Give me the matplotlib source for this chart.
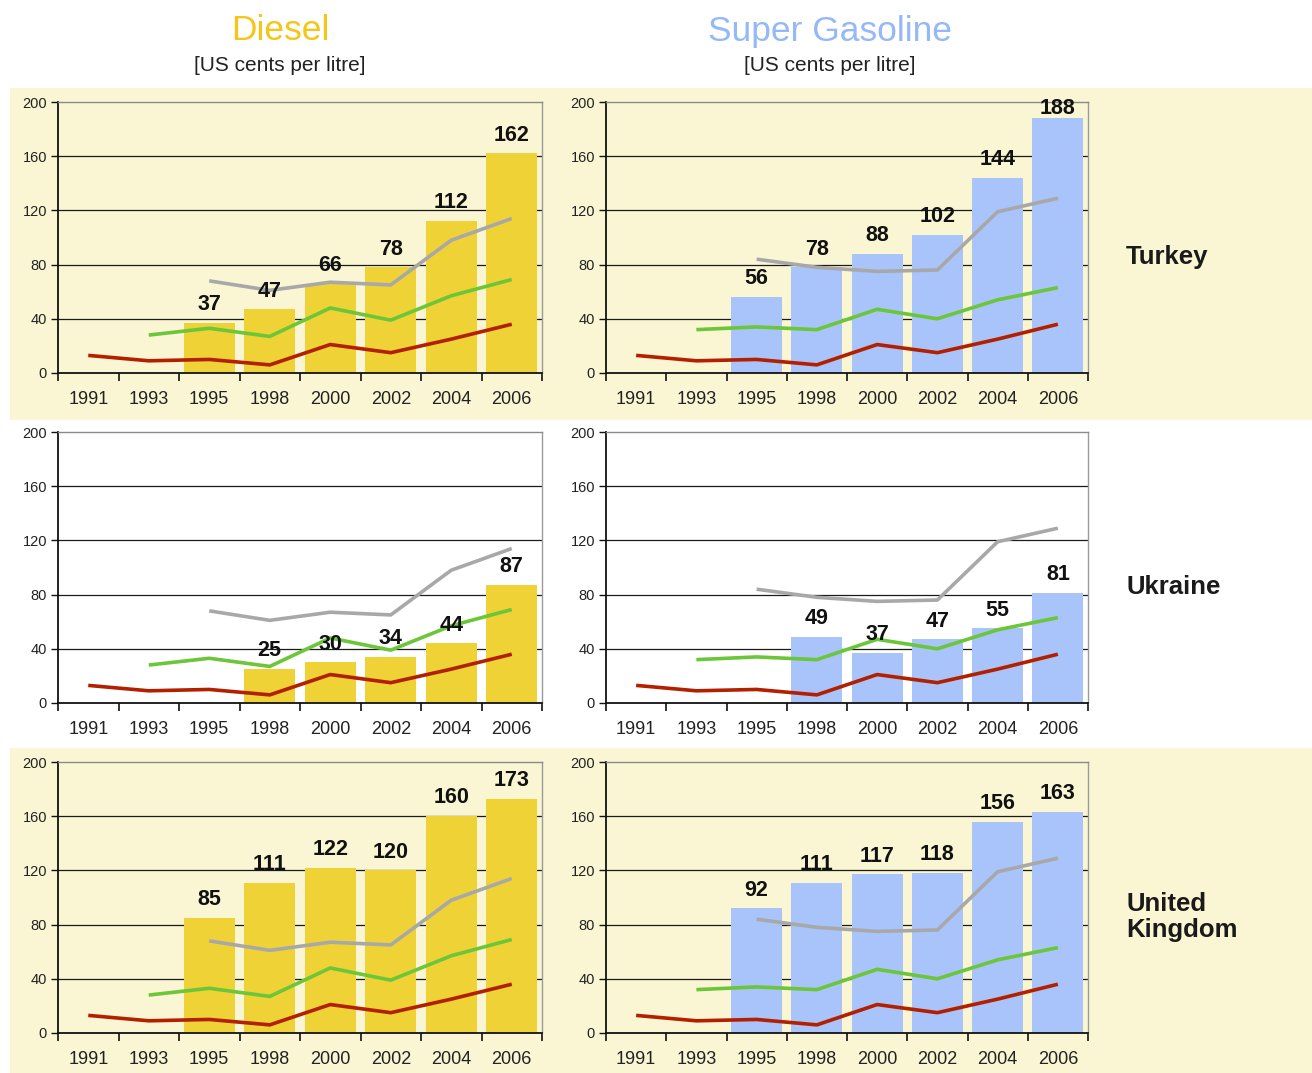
import numpy as np
import matplotlib
matplotlib.use("Agg")
import matplotlib.pyplot as plt
from matplotlib.patches import Rectangle

plt.rcParams['font.family'] = ['Liberation Sans', 'DejaVu Sans']

years = ['1991', '1993', '1995', '1998', '2000', '2002', '2004', '2006']
nan = np.nan

# Bar values (US cents per litre)
turkey_diesel = [nan, nan, 37, 47, 66, 78, 112, 162]
ukraine_diesel = [nan, nan, nan, 25, 30, 34, 44, 87]
uk_diesel = [nan, nan, 85, 111, 122, 120, 160, 173]
turkey_gas = [nan, nan, 56, 78, 88, 102, 144, 188]
ukraine_gas = [nan, nan, nan, 49, 37, 47, 55, 81]
uk_gas = [nan, nan, 92, 111, 117, 118, 156, 163]

# Reference lines
diesel_red = [13, 9, 10, 6, 21, 15, 25, 36]
diesel_green = [nan, 28, 33, 27, 48, 39, 57, 69]
diesel_gray = [nan, nan, 68, 61, 67, 65, 98, 114]
gas_red = [13, 9, 10, 6, 21, 15, 25, 36]
gas_green = [nan, 32, 34, 32, 47, 40, 54, 63]
gas_gray = [nan, nan, 84, 78, 75, 76, 119, 129]

countries = ['Turkey', 'Ukraine', 'United\nKingdom']
yticks = [0, 40, 80, 120, 160, 200]

W, H = 1312, 1073
fig = plt.figure(figsize=(W / 100, H / 100), dpi=100)
fig.patch.set_facecolor('white')

band_color = '#FAF6D3'
# background bands (Turkey row and UK row)
for (y0, y1) in [(88, 420), (748, 1073)]:
    rect = Rectangle((10 / W, 1 - y1 / H), 1 - 10 / W, (y1 - y0) / H,
                     transform=fig.transFigure, facecolor=band_color,
                     edgecolor='none', zorder=-10)
    fig.add_artist(rect)

DIESEL_C = '#EED236'
GAS_C = '#A9C4FA'
RED = '#B22000'
GREEN = '#6CC63A'
GRAY = '#A8A8A8'

row_tops = [102, 432, 762]
col_lefts = [(58, 542), (606, 1088)]

data = [
    [(turkey_diesel, 'd'), (turkey_gas, 'g')],
    [(ukraine_diesel, 'd'), (ukraine_gas, 'g')],
    [(uk_diesel, 'd'), (uk_gas, 'g')],
]

x = np.arange(len(years))
for r in range(3):
    top = row_tops[r]
    bottom = top + 271
    for c in range(2):
        l, rr = col_lefts[c]
        ax = fig.add_axes([l / W, 1 - bottom / H, (rr - l) / W, 271 / H])
        ax.set_zorder(1)
        ax.set_facecolor('none')
        ax.patch.set_alpha(0)
        vals, kind = data[r][c]
        if kind == 'd':
            bc, red, green, gray = DIESEL_C, diesel_red, diesel_green, diesel_gray
        else:
            bc, red, green, gray = GAS_C, gas_red, gas_green, gas_gray
        for yv in [40, 80, 120, 160]:
            ax.axhline(yv, color='#1a1a1a', lw=0.9, zorder=1)
        ax.bar(x, vals, width=0.85, color=bc, zorder=2)
        ax.plot(x, gray, color=GRAY, lw=2.6, zorder=3, solid_capstyle='butt')
        ax.plot(x, green, color=GREEN, lw=2.6, zorder=3, solid_capstyle='butt')
        ax.plot(x, red, color=RED, lw=2.6, zorder=3, solid_capstyle='butt')
        for xi, v in zip(x, vals):
            if not np.isnan(v):
                # label sits ~19px above bar, kept inside the plot area
                ly = min(v + 13.5, 195.5)
                ax.text(xi, ly, f'{int(v)}', ha='center', va='center',
                        fontsize=15.5, fontweight='bold', color='#111111', zorder=5)
        ax.set_xlim(-0.5, len(years) - 0.5)
        ax.set_ylim(0, 200)
        ax.set_yticks(yticks)
        ax.set_yticklabels([str(t) for t in yticks], fontsize=10.5, color='#222222')
        ax.set_xticks(x)
        ax.set_xticklabels(years, fontsize=13, color='#222222')
        ax.set_xticks(np.arange(-0.5, len(years) + 0.5, 1), minor=True)
        ax.tick_params(axis='x', which='major', length=0, pad=13)
        ax.tick_params(axis='x', which='minor', length=6, width=1.2, direction='out', color='#111111')
        ax.tick_params(axis='y', length=5, width=1.0, direction='out', pad=3, color='#111111')
        for s in ['left', 'bottom']:
            ax.spines[s].set_color('#111111')
            ax.spines[s].set_linewidth(1.3)
        ax.spines['top'].set_color('#8a8a8a')
        ax.spines['top'].set_linewidth(1.0)
        ax.spines['right'].set_color('#9a9a9a')
        ax.spines['right'].set_linewidth(1.0)
        ax.spines['bottom'].set_zorder(6)

# Column titles
fig.text(280 / W, 1 - 31 / H, 'Diesel', ha='center', va='center', fontsize=25.5, color='#F5C518')
fig.text(280 / W, 1 - 65 / H, '[US cents per litre]', ha='center', va='center', fontsize=15, color='#222222')
fig.text(830 / W, 1 - 31 / H, 'Super Gasoline', ha='center', va='center', fontsize=25.5, color='#94B8F8')
fig.text(830 / W, 1 - 65 / H, '[US cents per litre]', ha='center', va='center', fontsize=15, color='#222222')

# Country labels
label_y = [257, 587, 917]
for name, yy in zip(countries, label_y):
    fig.text(1126 / W, 1 - yy / H, name, ha='left', va='center', fontsize=18.5,
             fontweight='bold', color='#1a1a1a', linespacing=1.15)

fig.savefig('out.png', dpi=100, facecolor=fig.get_facecolor())
